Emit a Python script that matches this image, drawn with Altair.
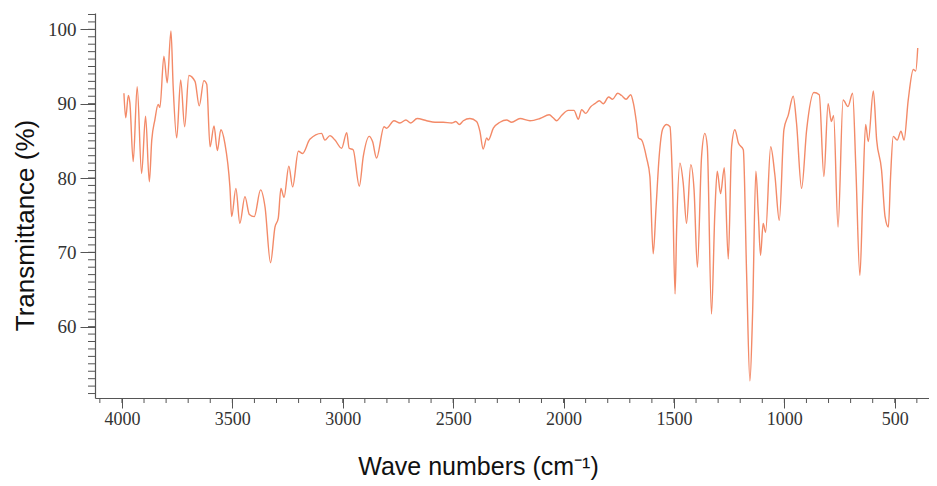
import altair as alt
import pandas as pd

# IR spectrum (wavenumber cm-1, transmittance %)
wavenumber = [
    3991, 3983, 3971, 3964, 3949, 3931, 3911, 3893, 3876, 3865, 3851, 3836, 3828,
    3810, 3795, 3778, 3768, 3752, 3734, 3716, 3697, 3669, 3650, 3629, 3616, 3601,
    3583, 3568, 3552, 3534, 3511, 3503, 3484, 3466, 3443, 3423, 3401, 3372, 3352,
    3327, 3307, 3292, 3280, 3266, 3244, 3227, 3201, 3182, 3149, 3096, 3081, 3058,
    3035, 3005, 2982, 2971, 2953, 2925, 2907, 2880, 2865, 2847, 2813, 2801, 2768,
    2741, 2714, 2692, 2663, 2620, 2582, 2545, 2507, 2488, 2472, 2454, 2424, 2394,
    2379, 2364, 2348, 2341, 2318, 2288, 2258, 2235, 2197, 2152, 2107, 2065, 2047,
    2032, 2009, 1979, 1953, 1933, 1918, 1900, 1877, 1858, 1838, 1820, 1796, 1778,
    1755, 1737, 1717, 1696, 1684, 1670, 1661, 1646, 1624, 1609, 1594, 1581, 1567,
    1551, 1533, 1518, 1507, 1495, 1488, 1473, 1458, 1443, 1424, 1409, 1394, 1375,
    1360, 1349, 1330, 1315, 1304, 1289, 1272, 1254, 1239, 1224, 1208, 1186, 1171,
    1156, 1144, 1129, 1118, 1108, 1096, 1085, 1062, 1043, 1023, 1002, 982, 960,
    945, 922, 899, 866, 842, 821, 802, 787, 777, 757, 734, 712, 691, 676, 658,
    645, 632, 620, 597, 582, 560, 544, 529, 519, 507, 489, 472, 458, 439, 416,
    405, 396,
]
transmittance = [
    91.4, 88.1, 91.1, 90.1, 82.2, 92.3, 80.6, 88.3, 79.5, 85.1, 87.8, 89.9, 89.5,
    96.4, 92.8, 99.8, 92.3, 85.4, 93.2, 86.9, 93.8, 93.0, 89.7, 93.1, 92.6, 84.2,
    87.0, 83.7, 86.5, 84.7, 78.8, 74.8, 78.6, 73.9, 77.5, 75.1, 74.8, 78.4, 76.1,
    68.6, 73.4, 74.6, 78.6, 77.4, 81.6, 78.8, 83.6, 83.3, 85.2, 86.0, 85.1, 85.7,
    85.1, 84.0, 86.1, 84.0, 83.8, 78.9, 82.9, 85.6, 84.9, 82.7, 86.9, 86.7, 87.7,
    87.4, 87.8, 87.4, 88.0, 87.7, 87.5, 87.5, 87.4, 87.6, 87.2, 87.7, 88.0, 87.6,
    86.3, 83.9, 85.4, 85.1, 86.7, 87.5, 87.8, 87.5, 88.0, 87.7, 88.0, 88.5, 88.1,
    87.7, 88.4, 89.1, 89.1, 87.9, 89.2, 88.7, 89.6, 90.0, 90.4, 90.0, 90.9, 90.6,
    91.4, 91.1, 90.6, 91.2, 90.1, 87.5, 85.4, 85.1, 82.7, 80.2, 69.8, 76.1, 82.9,
    86.6, 87.2, 86.9, 79.7, 64.4, 73.0, 82.0, 79.3, 73.9, 81.8, 78.4, 68.0, 82.9,
    86.0, 84.2, 61.7, 75.2, 80.9, 77.9, 81.4, 69.1, 84.2, 86.5, 84.7, 83.8, 67.1,
    52.7, 61.7, 80.9, 75.2, 69.6, 73.9, 72.7, 84.2, 80.4, 74.3, 86.5, 88.5, 91.0,
    87.4, 78.6, 86.5, 91.5, 91.2, 80.2, 90.0, 87.6, 88.4, 73.4, 90.5, 89.6, 91.4,
    81.1, 66.9, 77.5, 87.2, 84.9, 91.7, 85.1, 81.1, 74.8, 73.4, 80.2, 85.6, 85.1,
    86.3, 85.1, 90.5, 94.6, 94.4, 97.5,
]

x_major = [4000, 3500, 3000, 2500, 2000, 1500, 1000, 500]
x_minor = list(range(4100, 399, -100))
y_major = [60, 70, 80, 90, 100]
y_minor = list(range(51, 103))

x_domain = [345, 4122]
y_domain = [50.4, 102.2]

W, H = 834, 385
AX = "#555555"

spec = pd.DataFrame({"wn": wavenumber, "t": transmittance})
xminor_df = pd.DataFrame({"wn": x_minor})
yminor_df = pd.DataFrame({"t": y_minor})

xscale = alt.Scale(domain=x_domain, reverse=True, nice=False, zero=False)
yscale = alt.Scale(domain=y_domain, nice=False, zero=False)

line = alt.Chart(spec).mark_line(
    color="#F38A68", strokeWidth=1.4, interpolate="monotone", clip=True
).encode(
    x=alt.X(
        "wn:Q", scale=xscale,
        axis=alt.Axis(
            values=x_major, format="d", tickSize=10, tickColor=AX, domainColor=AX,
            tickWidth=1, domainWidth=1.2,
            labelFont="Liberation Serif", labelFontSize=18, labelColor="#333333",
            labelPadding=2, labelFlush=False, grid=False,
            title="Wave numbers (cm\u207b\u00b9)", titleFont="Liberation Sans",
            titleFontSize=25, titleFontWeight="normal", titleColor="#111111",
            titleX=383, titleY=76, titleAlign="center", titleBaseline="alphabetic",
        ),
    ),
    y=alt.Y(
        "t:Q", scale=yscale,
        axis=alt.Axis(
            values=y_major, format="d", tickSize=15, tickColor=AX, domainColor=AX,
            tickWidth=1, domainWidth=1.2,
            labelFont="Liberation Serif", labelFontSize=19, labelColor="#333333",
            labelPadding=4, labelFlush=False, grid=False,
            title="Transmittance (%)", titleFont="Liberation Sans",
            titleFontSize=26, titleFontWeight="normal", titleColor="#111111",
            titleAngle=270, titleX=-62, titleY=212, titleAlign="center",
            titleBaseline="alphabetic",
        ),
    ),
)

xminor = alt.Chart(xminor_df).mark_rule(color=AX, strokeWidth=1).encode(
    x=alt.X("wn:Q", scale=xscale),
    y=alt.value(H),
    y2=alt.value(H + 5),
)

yminor = alt.Chart(yminor_df).mark_rule(color=AX, strokeWidth=1).encode(
    y=alt.Y("t:Q", scale=yscale),
    x=alt.value(-7),
    x2=alt.value(0),
)

chart = alt.layer(line, xminor, yminor).properties(
    width=W, height=H,
    autosize=alt.AutoSizeParams(type="none"),
    padding={"left": 87, "top": 5, "right": 0, "bottom": 84},
    view=alt.ViewBackground(strokeWidth=0, strokeOpacity=0, fill="white"),
).configure_view(strokeWidth=0, strokeOpacity=0).configure(background="white")

chart.save("out.html", embed_options={"renderer": "svg", "actions": False})
